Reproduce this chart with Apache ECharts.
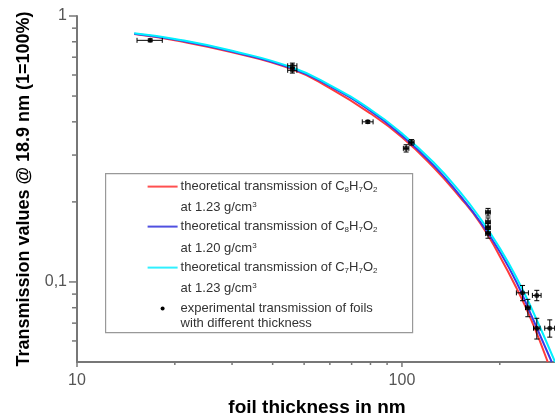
<!DOCTYPE html>
<html lang="en">
<head>
    <meta charset="utf-8" />
    <title>Transmission vs foil thickness</title>
    <script src="https://cdn.jsdelivr.net/npm/echarts@6/dist/echarts.min.js"></script>
    <style>
        html, body { margin: 0; height: 100%; background: #FFFFFF; }
        #chart { width: 555px; height: 417px; }
    </style>
</head>
<body>
<div id="chart"></div>
<script>
// theoretical curves (thickness nm, transmission)
var redX  = [15, 20, 30, 46, 60, 80, 100, 125, 150, 175, 200, 225, 250, 281];
var redY  = [0.855, 0.81, 0.73, 0.63, 0.535, 0.43, 0.35, 0.27, 0.21, 0.165, 0.125, 0.095, 0.072, 0.05];
var blueX = [15, 20, 30, 46, 60, 80, 100, 125, 150, 175, 200, 225, 250, 289];
var blueY = [0.858, 0.815, 0.735, 0.635, 0.545, 0.44, 0.355, 0.275, 0.213, 0.167, 0.13, 0.1, 0.075, 0.05];
var cyanX = [15, 20, 30, 46, 60, 80, 100, 125, 150, 175, 200, 225, 250, 296];
var cyanY = [0.862, 0.82, 0.74, 0.64, 0.55, 0.445, 0.362, 0.282, 0.22, 0.172, 0.134, 0.104, 0.08, 0.05];

// experimental points with error bars
var expX    = [16.8, 46, 46, 78.5, 107, 103, 184, 184, 184, 184, 235, 260, 244, 260, 285];
var expY    = [0.81, 0.625, 0.65, 0.40, 0.335, 0.318, 0.183, 0.168, 0.16, 0.152, 0.091, 0.089, 0.080, 0.067, 0.067];
var expXErr = [1.5, 1.5, 1.5, 3, 2, 2, 3, 3, 3, 3, 10, 8, 4, 6, 10];
var expYErr = [0.01, 0.015, 0.015, 0.005, 0.008, 0.01, 0.006, 0.006, 0.006, 0.006, 0.006, 0.004, 0.006, 0.006, 0.005];

// axis ticks
var xMajorTicks = [10, 100];
var xMinorTicks = [20, 30, 40, 50, 60, 70, 80, 90, 200, 300];
var yMajorTicks = [0.1, 1];
var yMinorTicks = [0.06, 0.07, 0.08, 0.09, 0.2, 0.3, 0.4, 0.5, 0.6, 0.7, 0.8, 0.9];

var xMin = 10, xMax = 300, yMin = 0.05, yMax = 1;
var axisGray = '#777777';
var font = 'Liberation Sans';

function zip(xs, ys) {
    return xs.map(function (x, i) { return [x, ys[i]]; });
}
function near(v, t) {
    return Math.abs(Math.log10(v) - Math.log10(t)) < 1e-6;
}

var tickData = []
    .concat(xMajorTicks.map(function (v) { return [v, yMin, 0, 5]; }))
    .concat(xMinorTicks.map(function (v) { return [v, yMin, 0, 3]; }))
    .concat(yMajorTicks.map(function (v) { return [xMin, v, 1, 8]; }))
    .concat(yMinorTicks.map(function (v) { return [xMin, v, 1, 5]; }));

var chart = echarts.init(document.getElementById('chart'));

function curve(name, xs, ys, color) {
    return {
        name: name,
        type: 'line',
        data: zip(xs, ys),
        smooth: true,
        showSymbol: false,
        lineStyle: { color: color, width: 2 },
        z: 3
    };
}

var legendText = { fontFamily: font, fontSize: 13, fill: '#333333' };
function formula(c, h, o) {
    return '{t|theoretical transmission of C}{s|' + c + '}{t|H}{s|' + h + '}{t|O}{s|' + o + '}';
}
var richSub = {
    t: { fontFamily: font, fontSize: 13, fill: '#333333' },
    s: { fontFamily: font, fontSize: 8, fill: '#333333', padding: [7, 0, 0, 0] },
    p: { fontFamily: font, fontSize: 8, fill: '#333333', padding: [0, 0, 6, 0] }
};

chart.setOption({
    animation: false,
    grid: { left: 77, right: -2, top: 16, bottom: 55, outerBoundsMode: 'none' },
    xAxis: {
        type: 'log',
        logBase: 10,
        min: xMin,
        max: xMax,
        name: 'foil thickness in nm',
        nameLocation: 'middle',
        nameGap: 36,
        nameTextStyle: { fontFamily: font, fontSize: 19, fontWeight: 'bold', color: '#000' },
        axisLine: { lineStyle: { color: axisGray, width: 2 } },
        axisTick: { show: false },
        splitLine: { show: false },
        axisLabel: {
            fontFamily: font, fontSize: 16, color: '#555', margin: 11,
            showMinLabel: true, showMaxLabel: false,
            formatter: function (v) {
                if (near(v, 10)) return '10';
                if (near(v, 100)) return '100';
                return '';
            }
        }
    },
    yAxis: {
        type: 'log',
        logBase: 10,
        min: yMin,
        max: yMax,
        name: 'Transmission values @ 18.9 nm (1=100%)',
        nameLocation: 'middle',
        nameGap: 44,
        nameTextStyle: { fontFamily: font, fontSize: 18, fontWeight: 'bold', color: '#000' },
        axisLine: { lineStyle: { color: axisGray, width: 2 } },
        axisTick: { show: false },
        splitLine: { show: false },
        axisLabel: {
            fontFamily: font, fontSize: 16, color: '#555', margin: 10,
            showMinLabel: false,
            formatter: function (v) {
                if (near(v, 1)) return '1';
                if (near(v, 0.1)) return '0,1';
                return '';
            }
        }
    },
    series: [
        curve('red', redX, redY, '#FF3B3B'),
        curve('blue', blueX, blueY, '#3A3AE6'),
        curve('cyan', cyanX, cyanY, '#00F0FF'),
        {
            name: 'error bars',
            type: 'custom',
            z: 4,
            data: expX.map(function (x, i) { return [x, expY[i], expXErr[i], expYErr[i]]; }),
            renderItem: function (params, api) {
                var x = api.value(0), y = api.value(1), dx = api.value(2), dy = api.value(3);
                var l = api.coord([x - dx, y]), r = api.coord([x + dx, y]);
                var t = api.coord([x, y + dy]), b = api.coord([x, y - dy]);
                var cap = 2.5;
                var st = { stroke: '#000', lineWidth: 1 };
                return {
                    type: 'group',
                    children: [
                        { type: 'line', shape: { x1: l[0], y1: l[1], x2: r[0], y2: r[1] }, style: st },
                        { type: 'line', shape: { x1: l[0], y1: l[1] - cap, x2: l[0], y2: l[1] + cap }, style: st },
                        { type: 'line', shape: { x1: r[0], y1: r[1] - cap, x2: r[0], y2: r[1] + cap }, style: st },
                        { type: 'line', shape: { x1: t[0], y1: t[1], x2: b[0], y2: b[1] }, style: st },
                        { type: 'line', shape: { x1: t[0] - cap, y1: t[1], x2: t[0] + cap, y2: t[1] }, style: st },
                        { type: 'line', shape: { x1: b[0] - cap, y1: b[1], x2: b[0] + cap, y2: b[1] }, style: st }
                    ]
                };
            }
        },
        {
            name: 'experimental',
            type: 'scatter',
            z: 5,
            data: zip(expX, expY),
            symbol: 'circle',
            symbolSize: 5,
            itemStyle: { color: '#000' }
        },
        {
            name: 'ticks',
            type: 'custom',
            clip: false,
            silent: true,
            data: tickData,
            renderItem: function (params, api) {
                var p = api.coord([api.value(0), api.value(1)]);
                var len = api.value(3);
                var shape = api.value(2) === 0
                    ? { x1: p[0], y1: p[1], x2: p[0], y2: p[1] + len }
                    : { x1: p[0], y1: p[1], x2: p[0] - len, y2: p[1] };
                return { type: 'line', shape: shape, style: { stroke: axisGray, lineWidth: 1.5 } };
            }
        }
    ],
    graphic: [{
        type: 'group',
        left: 105,
        top: 173,
        children: [
            { type: 'rect', shape: { x: 0, y: 0, width: 307, height: 159 },
              style: { fill: '#fff', stroke: '#999', lineWidth: 1.2 } },
            { type: 'line', shape: { x1: 42, y1: 13, x2: 72, y2: 13 }, style: { stroke: '#FF5050', lineWidth: 2 } },
            { type: 'text', x: 75, y: 13, style: { text: formula('8', '7', '2'), rich: richSub, verticalAlign: 'middle' } },
            { type: 'text', x: 75, y: 34, style: { text: '{t|at 1.23 g/cm}{p|3}', rich: richSub, verticalAlign: 'middle' } },
            { type: 'line', shape: { x1: 42, y1: 53, x2: 72, y2: 53 }, style: { stroke: '#5050E0', lineWidth: 2 } },
            { type: 'text', x: 75, y: 53, style: { text: formula('8', '7', '2'), rich: richSub, verticalAlign: 'middle' } },
            { type: 'text', x: 75, y: 75, style: { text: '{t|at 1.20 g/cm}{p|3}', rich: richSub, verticalAlign: 'middle' } },
            { type: 'line', shape: { x1: 42, y1: 94, x2: 72, y2: 94 }, style: { stroke: '#30F0FF', lineWidth: 2 } },
            { type: 'text', x: 75, y: 94, style: { text: formula('7', '7', '2'), rich: richSub, verticalAlign: 'middle' } },
            { type: 'text', x: 75, y: 115, style: { text: '{t|at 1.23 g/cm}{p|3}', rich: richSub, verticalAlign: 'middle' } },
            { type: 'circle', shape: { cx: 57, cy: 135, r: 2 }, style: { fill: '#000' } },
            { type: 'text', x: 75, y: 135, style: Object.assign({ text: 'experimental transmission of foils', verticalAlign: 'middle' }, legendText) },
            { type: 'text', x: 75, y: 150, style: Object.assign({ text: 'with different thickness', verticalAlign: 'middle' }, legendText) }
        ]
    }]
});
</script>
</body>
</html>
